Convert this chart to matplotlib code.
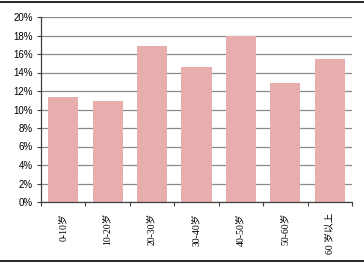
import matplotlib
matplotlib.use("Agg")
import matplotlib.pyplot as plt
from matplotlib.ticker import FuncFormatter
from matplotlib.lines import Line2D

plt.rcParams['font.family'] = ['Liberation Sans', 'Noto Sans CJK SC', 'DejaVu Sans']

categories = ["0-10岁", "10-20岁", "20-30岁", "30-40岁", "40-50岁", "50-60岁", "60 岁以上"]
values = [11.3, 10.9, 16.9, 14.6, 17.9, 12.9, 15.5]
yticks = [0, 2, 4, 6, 8, 10, 12, 14, 16, 18, 20]

W, H = 364, 265
fig = plt.figure(figsize=(W / 100, H / 100), dpi=100)
ax = fig.add_axes([41 / W, 1 - 202 / H, (352 - 41) / W, (202 - 17) / H])

x = list(range(len(categories)))
ax.bar(x, values, width=0.68, color="#E8AEAD", zorder=2)
ax.set_xlim(-0.5, len(categories) - 0.5)
ax.set_ylim(0, 20)
ax.set_yticks(yticks)
ax.yaxis.set_major_formatter(FuncFormatter(lambda v, p: f"{v:.0f}%"))
ax.grid(axis="y", color="#8a8a8a", linewidth=0.9, zorder=1)
ax.set_axisbelow(True)

for s in ["top", "right"]:
    ax.spines[s].set_visible(False)
for s in ["left", "bottom"]:
    ax.spines[s].set_color("#404040")
    ax.spines[s].set_linewidth(0.9)

ax.tick_params(axis="y", length=3, width=0.8, color="#404040", labelsize=7, pad=3, direction="out")
ax.set_xticks([i + 0.5 for i in range(-1, len(categories))], minor=False)
ax.set_xticklabels([])
ax.tick_params(axis="x", which="major", length=3, width=0.8, color="#404040")
ax.set_xticks(x, minor=True)
ax.set_xticklabels(categories, minor=True, rotation=90, fontsize=7,
                   family=['Liberation Serif', 'Noto Sans CJK SC', 'DejaVu Sans'])
ax.tick_params(axis="x", which="minor", length=0, pad=8)
for lbl in ax.get_xticklabels(minor=True):
    lbl.set_va("top")
    lbl.set_ha("center")

fig.add_artist(Line2D([0, 1], [1 - 1.5 / H, 1 - 1.5 / H], transform=fig.transFigure, color="black", linewidth=1.2))
fig.add_artist(Line2D([0, 1], [1 - 260.5 / H, 1 - 260.5 / H], transform=fig.transFigure, color="black", linewidth=1.2))

fig.savefig("out.png", dpi=100)
